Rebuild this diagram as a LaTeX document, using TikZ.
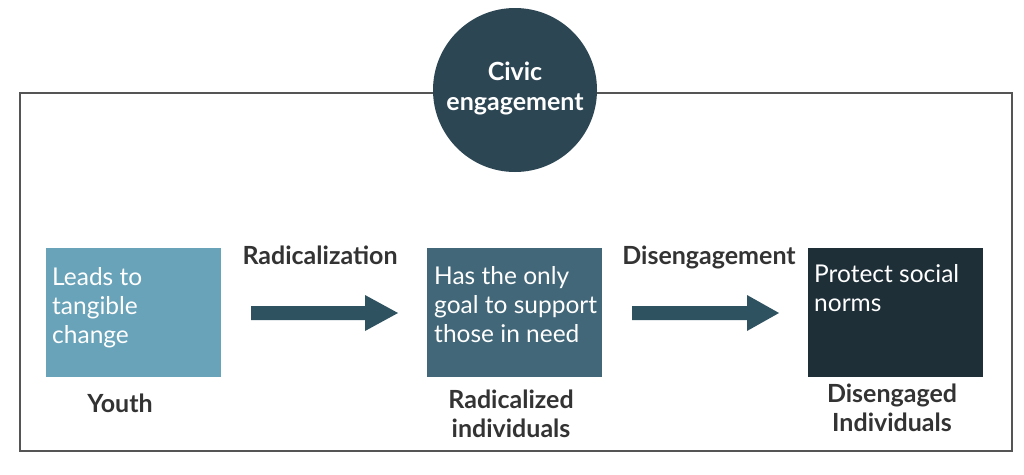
\documentclass[tikz,border=0pt]{standalone}
\usepackage{fontspec}
\setmainfont{Lato}
\definecolor{boxA}{HTML}{68A3B9}
\definecolor{boxB}{HTML}{426778}
\definecolor{boxC}{HTML}{1E2F38}
\definecolor{arrowc}{HTML}{2F5261}
\definecolor{circc}{HTML}{2D4654}
\definecolor{labc}{HTML}{333333}
\definecolor{framec}{HTML}{555555}
\begin{document}
\begin{tikzpicture}[x=1pt,y=-1pt,
  stepbox/.style={draw=none,minimum width=175pt,minimum height=129pt,anchor=north west,inner sep=0pt},
  boxtext/.style={text=white,anchor=north west,align=left,font=\fontsize{24.5}{29}\selectfont,inner sep=0pt},
  lab/.style={text=labc,font=\bfseries\fontsize{25}{29}\selectfont,align=center,inner sep=0pt}
]
\useasboundingbox (0,0) rectangle (1024,474);
\fill[white] (0,0) rectangle (1024,474);
\node[draw=framec,line width=1.5pt,minimum width=992pt,minimum height=358pt,anchor=north west,inner sep=0pt] (frame) at (19,92) {};
\node[circle,fill=circc,minimum size=164pt,inner sep=0pt] (civic) at (515,90) {};
\node[text=white,font=\bfseries\fontsize{25}{30}\selectfont,align=center,inner sep=0pt] (civict) at (515,88) {Civic\\engagement};

\node[stepbox,fill=boxA] (youth) at (46,248) {};
\node[stepbox,fill=boxB] (rad) at (427,248) {};
\node[stepbox,fill=boxC] (dis) at (808,248) {};

\node[boxtext] (yt) at (52,267) {Leads to\\tangible\\change};
\node[boxtext] (rt) at (434,266) {Has the only\\goal to support\\those in need};
\node[boxtext] (dt) at (814,264) {Protect social\\norms};

\node[lab] (yl) at (120,403) {Youth};
\node[lab] (rl) at (511,414) {Radicalized\\individuals};
\node[lab] (dl) at (892,408) {Disengaged\\Individuals};

\fill[arrowc] (251,306) -- (365,306) -- (365,295) -- (398,313) -- (365,331) -- (365,320) -- (251,320) -- cycle;
\fill[arrowc] (632,306) -- (747,306) -- (747,295) -- (779,313) -- (747,331) -- (747,320) -- (632,320) -- cycle;

\node[lab] (radl) at (320,255) {Radicalization};
\node[lab] (disl) at (709,257) {Disengagement};
\end{tikzpicture}
\end{document}
